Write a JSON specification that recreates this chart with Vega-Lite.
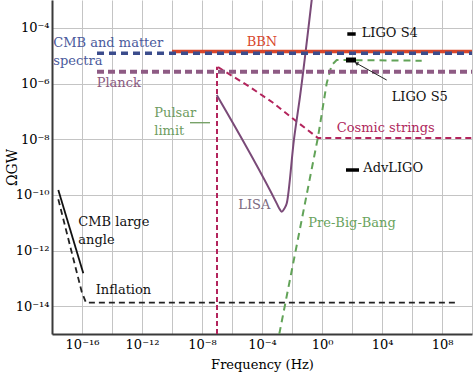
{
  "$schema": "https://vega.github.io/schema/vega-lite/v6.json",
  "width": 420,
  "height": 334,
  "autosize": {"type": "none"},
  "padding": {"left": 52, "top": 0, "right": 2, "bottom": 38},
  "background": "white",
  "config": {"font": "DejaVu Serif", "view": {"stroke": null}},
  "datasets": {
    "lines": [
      {"s": "BBN", "i": 0, "f": 1e-10, "y": 1.41e-5},
      {"s": "BBN", "i": 1, "f": 1e10, "y": 1.41e-5},
      {"s": "CMB", "i": 0, "f": 1e-15, "y": 1.22e-5},
      {"s": "CMB", "i": 1, "f": 1e10, "y": 1.22e-5},
      {"s": "Planck", "i": 0, "f": 1e-15, "y": 2.65e-6},
      {"s": "Planck", "i": 1, "f": 1e10, "y": 2.65e-6},
      {"s": "Pulsar", "i": 0, "f": 1e-7, "y": 1e-15},
      {"s": "Pulsar", "i": 1, "f": 1e-7, "y": 3.98e-6},
      {"s": "Cosmic", "i": 0, "f": 1.17e-7, "y": 3.89e-6},
      {"s": "Cosmic", "i": 1, "f": 3.98e-7, "y": 2.57e-6},
      {"s": "Cosmic", "i": 2, "f": 1.58e-5, "y": 7.48e-7},
      {"s": "Cosmic", "i": 3, "f": 4.64e-4, "y": 2.16e-7},
      {"s": "Cosmic", "i": 4, "f": 1.85e-2, "y": 4.49e-8},
      {"s": "Cosmic", "i": 5, "f": 0.541, "y": 1.1e-8},
      {"s": "Cosmic", "i": 6, "f": 1e10, "y": 1.1e-8},
      {"s": "LISA", "i": 0, "f": 9.55e-8, "y": 3.85e-7},
      {"s": "LISA", "i": 1, "f": 9.55e-4, "y": 4.95e-11},
      {"s": "LISA", "i": 2, "f": 1.48e-3, "y": 3.09e-11},
      {"s": "LISA", "i": 3, "f": 2.04e-3, "y": 2.47e-11},
      {"s": "LISA", "i": 4, "f": 2.95e-3, "y": 3.09e-11},
      {"s": "LISA", "i": 5, "f": 4.47e-3, "y": 4.95e-11},
      {"s": "LISA", "i": 6, "f": 1.36e-2, "y": 1.01e-8},
      {"s": "LISA", "i": 7, "f": 3.41e-2, "y": 3.35e-7},
      {"s": "LISA", "i": 8, "f": 0.206, "y": 1e-3},
      {"s": "PBB", "i": 0, "f": 1.42e-3, "y": 1e-15},
      {"s": "PBB", "i": 1, "f": 0.541, "y": 1.19e-8},
      {"s": "PBB", "i": 2, "f": 2.06, "y": 1.02e-6},
      {"s": "PBB", "i": 3, "f": 4.43, "y": 4.61e-6},
      {"s": "PBB", "i": 4, "f": 9.55, "y": 6.98e-6},
      {"s": "PBB", "i": 5, "f": 4.43e6, "y": 6.6e-6},
      {"s": "Inflation", "i": 0, "f": 2.63e-18, "y": 6.9e-11},
      {"s": "Inflation", "i": 1, "f": 9.55e-17, "y": 3.3e-14},
      {"s": "Inflation", "i": 2, "f": 1.85e-16, "y": 1.33e-14},
      {"s": "Inflation", "i": 3, "f": 7.36e8, "y": 1.33e-14},
      {"s": "CMBLA", "i": 0, "f": 2.63e-18, "y": 1.49e-10},
      {"s": "CMBLA", "i": 1, "f": 1.22e-16, "y": 1.51e-13},
      {"s": "PulsarTick", "i": 0, "f": 1.58e-9, "y": 3.9e-8},
      {"s": "PulsarTick", "i": 1, "f": 3.41e-8, "y": 3.9e-8},
      {"s": "Arrow", "i": 0, "f": 2.06e4, "y": 1.33e-6},
      {"s": "Arrow", "i": 1, "f": 215, "y": 5.22e-6}
    ],
    "bars": [
      {"name": "LIGO S4", "f": 48.6, "f2": 176.6, "y": 6.0e-5},
      {"name": "LIGO S5", "f": 39.8, "f2": 185, "y": 6.98e-6},
      {"name": "AdvLIGO", "f": 39.8, "f2": 293, "y": 7.8e-10}
    ],
    "heads": [
      {"f": 215, "y": 5.22e-6}
    ],
    "labels": [
      {"t": "CMB and matter", "g": "cmb", "f": 1.22e-18, "y": 2.92e-5},
      {"t": "spectra", "g": "cmb", "f": 1.22e-18, "y": 6.43e-6},
      {"t": "Planck", "g": "planck", "f": 9.55e-16, "y": 1.02e-6},
      {"t": "BBN", "g": "bbn", "f": 9.55e-6, "y": 3.18e-5},
      {"t": "Pulsar", "g": "pulsar", "f": 6.61e-12, "y": 8.49e-8},
      {"t": "limit", "g": "pulsar", "f": 6.61e-12, "y": 1.96e-8},
      {"t": "LISA", "g": "lisa", "f": 2.63e-6, "y": 4.31e-11},
      {"t": "Pre-Big-Bang", "g": "pbb", "f": 0.122, "y": 9.46e-12},
      {"t": "Cosmic strings", "g": "cosmic", "f": 9.55, "y": 2.45e-8},
      {"t": "LIGO S4", "g": "black", "f": 443, "y": 6.35e-5},
      {"t": "LIGO S5", "g": "black", "f": 4.43e4, "y": 3.35e-7},
      {"t": "AdvLIGO", "g": "black", "f": 566, "y": 8.97e-10},
      {"t": "CMB large", "g": "black", "f": 5.66e-17, "y": 1.08e-11},
      {"t": "angle", "g": "black", "f": 5.66e-17, "y": 2.38e-12},
      {"t": "Inflation", "g": "black", "f": 8.19e-16, "y": 3.8e-14}
    ]
  },
  "encoding": {
    "x": {
      "field": "f", "type": "quantitative",
      "scale": {"type": "log", "domain": [1e-18, 1e10]},
      "title": "Frequency (Hz)",
      "axis": {
        "values": [1e-18, 1e-16, 1e-14, 1e-12, 1e-10, 1e-8, 1e-6, 1e-4, 1e-2, 1, 1e2, 1e4, 1e6, 1e8, 1e10],
        "labelExpr": "round(log(datum.value)/LN10) == -16 ? '10⁻¹⁶' : round(log(datum.value)/LN10) == -12 ? '10⁻¹²' : round(log(datum.value)/LN10) == -8 ? '10⁻⁸' : round(log(datum.value)/LN10) == -4 ? '10⁻⁴' : round(log(datum.value)/LN10) == 0 ? '10⁰' : round(log(datum.value)/LN10) == 4 ? '10⁴' : round(log(datum.value)/LN10) == 8 ? '10⁸' : ''",
        "grid": true, "gridColor": "#c4c4c4", "gridWidth": 1,
        "ticks": false, "domainColor": "#3a3a3a", "domainWidth": 2,
        "labelFont": "DejaVu Serif", "titleFont": "DejaVu Serif",
        "labelFontSize": 13, "labelColor": "black", "labelPadding": 4,
        "labelFlush": false, "labelOverlap": false, "labelBound": false,
        "titleFontSize": 13, "titleFontWeight": "normal", "titleColor": "black", "titlePadding": 7
      }
    },
    "y": {
      "field": "y", "type": "quantitative",
      "scale": {"type": "log", "domain": [1e-15, 1e-3]},
      "title": "ΩGW",
      "axis": {
        "values": [1e-14, 1e-12, 1e-10, 1e-8, 1e-6, 1e-4],
        "labelExpr": "round(log(datum.value)/LN10) == -14 ? '10⁻¹⁴' : round(log(datum.value)/LN10) == -12 ? '10⁻¹²' : round(log(datum.value)/LN10) == -10 ? '10⁻¹⁰' : round(log(datum.value)/LN10) == -8 ? '10⁻⁸' : round(log(datum.value)/LN10) == -6 ? '10⁻⁶' : '10⁻⁴'",
        "grid": true, "gridColor": "#c4c4c4", "gridWidth": 1,
        "ticks": false, "domainColor": "#3a3a3a", "domainWidth": 2,
        "labelFont": "DejaVu Serif", "titleFont": "DejaVu Serif",
        "labelFontSize": 13, "labelColor": "black", "labelPadding": 3,
        "labelFlush": false, "labelOverlap": false, "labelBound": false,
        "titleFontSize": 14, "titleFontWeight": "normal", "titleColor": "black",
        "titleX": -40, "titleBaseline": "middle", "titleAngle": 270
      }
    }
  },
  "layer": [
    {"data": {"name": "lines"}, "transform": [{"filter": "datum.s == 'Inflation'"}], "mark": {"type": "line", "color": "#222222", "strokeWidth": 1.8, "strokeDash": [6, 4], "clip": true}, "encoding": {"order": {"field": "i"}}},
    {"data": {"name": "lines"}, "transform": [{"filter": "datum.s == 'CMBLA'"}], "mark": {"type": "line", "color": "#111111", "strokeWidth": 1.8, "clip": true}, "encoding": {"order": {"field": "i"}}},
    {"data": {"name": "lines"}, "transform": [{"filter": "datum.s == 'Pulsar'"}], "mark": {"type": "line", "color": "#b3245c", "strokeWidth": 2, "strokeDash": [5, 3], "clip": true}, "encoding": {"order": {"field": "i"}}},
    {"data": {"name": "lines"}, "transform": [{"filter": "datum.s == 'Cosmic'"}], "mark": {"type": "line", "color": "#b3245c", "strokeWidth": 2, "strokeDash": [6, 4], "clip": true}, "encoding": {"order": {"field": "i"}}},
    {"data": {"name": "lines"}, "transform": [{"filter": "datum.s == 'LISA'"}], "mark": {"type": "line", "color": "#7a4a78", "strokeWidth": 2, "interpolate": "monotone", "clip": true}, "encoding": {"order": {"field": "i"}}},
    {"data": {"name": "lines"}, "transform": [{"filter": "datum.s == 'PBB'"}], "mark": {"type": "line", "color": "#62a358", "strokeWidth": 2, "strokeDash": [7, 5], "clip": true}, "encoding": {"order": {"field": "i"}}},
    {"data": {"name": "lines"}, "transform": [{"filter": "datum.s == 'Planck'"}], "mark": {"type": "line", "color": "#8e5b84", "strokeWidth": 4, "strokeDash": [7, 4], "clip": true}, "encoding": {"order": {"field": "i"}}},
    {"data": {"name": "lines"}, "transform": [{"filter": "datum.s == 'BBN'"}], "mark": {"type": "line", "color": "#d8472b", "strokeWidth": 3.5, "clip": true}, "encoding": {"order": {"field": "i"}}},
    {"data": {"name": "lines"}, "transform": [{"filter": "datum.s == 'CMB'"}], "mark": {"type": "line", "color": "#3b4c8c", "strokeWidth": 3.5, "strokeDash": [7, 5], "clip": true}, "encoding": {"order": {"field": "i"}}},
    {"data": {"name": "lines"}, "transform": [{"filter": "datum.s == 'PulsarTick'"}], "mark": {"type": "line", "color": "#6f9c5f", "strokeWidth": 1.3, "clip": true}, "encoding": {"order": {"field": "i"}}},
    {"data": {"name": "lines"}, "transform": [{"filter": "datum.s == 'Arrow'"}], "mark": {"type": "line", "color": "#222222", "strokeWidth": 1, "clip": true}, "encoding": {"order": {"field": "i"}}},
    {"data": {"name": "heads"}, "mark": {"type": "point", "shape": "triangle", "filled": true, "color": "#222222", "size": 18, "angle": 299, "opacity": 1}},
    {"data": {"name": "bars"}, "transform": [{"filter": "datum.name != 'LIGO S5'"}], "mark": {"type": "rule", "color": "black", "strokeWidth": 3.5}, "encoding": {"x2": {"field": "f2"}}},
    {"data": {"name": "bars"}, "transform": [{"filter": "datum.name == 'LIGO S5'"}], "mark": {"type": "rule", "color": "black", "strokeWidth": 5}, "encoding": {"x2": {"field": "f2"}}},
    {"data": {"name": "labels"}, "mark": {"type": "text", "align": "left", "baseline": "middle", "fontSize": 13, "font": "DejaVu Serif"},
     "encoding": {
       "text": {"field": "t"},
       "color": {"field": "g", "type": "nominal", "legend": null,
         "scale": {"domain": ["cmb", "planck", "bbn", "pulsar", "lisa", "pbb", "cosmic", "black"],
                   "range": ["#4a5a9c", "#8a5a80", "#d8472b", "#6f9c5f", "#7c6a80", "#6aa35e", "#b0285c", "#111111"]}}
     }}
  ]
}
